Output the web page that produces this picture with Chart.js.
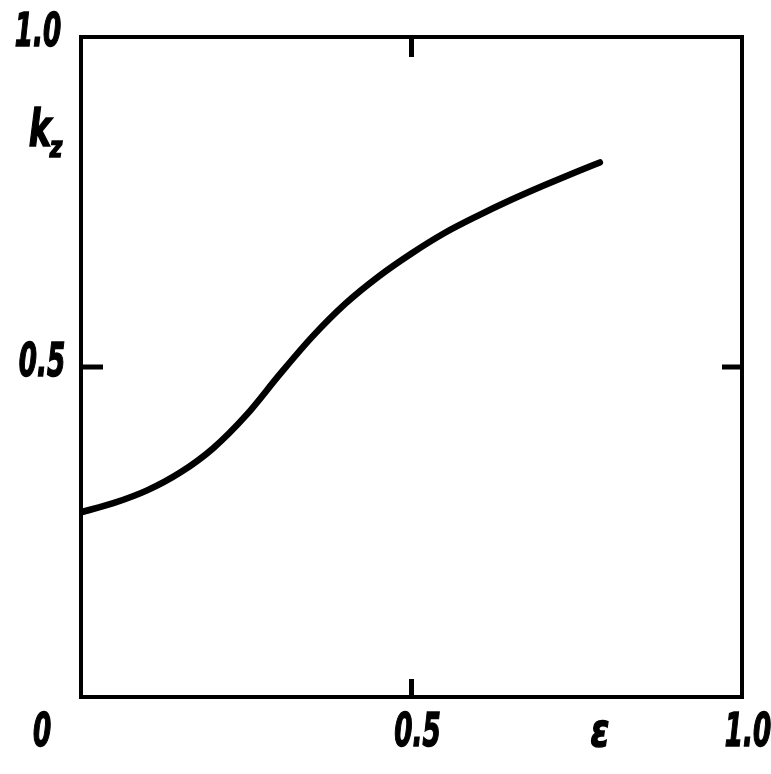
<!DOCTYPE html>
<html>
<head>
<meta charset="utf-8">
<script src="https://cdn.jsdelivr.net/npm/chart.js@4"></script>
<style>
  html, body { margin: 0; padding: 0; background: #fff; }
  #wrap { width: 771px; height: 774px; }
</style>
</head>
<body>
<div id="wrap"><canvas id="kzChart" width="771" height="774"></canvas></div>
<script>
// values
const epsValues = [0, 0.05, 0.1, 0.15, 0.2, 0.25, 0.3, 0.35, 0.4, 0.45, 0.5, 0.55, 0.6, 0.65, 0.7, 0.75, 0.785];
const kzValues = [0.280, 0.294, 0.313, 0.340, 0.377, 0.427, 0.488, 0.546, 0.596, 0.637, 0.672, 0.703, 0.729, 0.753, 0.775, 0.796, 0.810];
const xTickValues = [0, 0.5, 1.0];
const xTickLabels = ['0', '0.5', '1.0'];
const yTickValues = [0.5, 1.0];
const yTickLabels = ['0.5', '1.0'];
const innerTicks = [0.5];

const fontFamily = '"DejaVu Sans Condensed", "Liberation Sans Narrow", sans-serif';

// squeeze text sideways so it looks like the narrow lettering of the original
function squeezedText(ctx, text, cx, cy, sx) {
    ctx.save();
    ctx.translate(cx, cy);
    ctx.scale(sx, 1);
    ctx.fillText(text, 0, 0);
    ctx.lineWidth = 1.5;
    ctx.strokeText(text, 0, 0);
    ctx.restore();
}

// frame, inward ticks and labels, drawn from the scales
const framePlugin = {
    id: 'frame',
    afterDatasetsDraw(chart) {
        const { ctx, chartArea: a, scales: { x, y } } = chart;
        ctx.save();
        ctx.strokeStyle = '#000';
        ctx.lineWidth = 4;
        ctx.strokeRect(a.left, a.top, a.right - a.left, a.bottom - a.top);

        ctx.lineWidth = 5;
        innerTicks.forEach(v => {
            const px = x.getPixelForValue(v);
            const py = y.getPixelForValue(v);
            ctx.beginPath();
            ctx.moveTo(px, a.bottom); ctx.lineTo(px, a.bottom - 18);
            ctx.moveTo(px, a.top); ctx.lineTo(px, a.top + 20);
            ctx.moveTo(a.left, py); ctx.lineTo(a.left + 22, py);
            ctx.moveTo(a.right, py); ctx.lineTo(a.right - 20, py);
            ctx.stroke();
        });

        ctx.fillStyle = '#000';
        ctx.font = 'italic bold 47px ' + fontFamily;
        ctx.textAlign = 'center';
        ctx.textBaseline = 'middle';

        // y labels sit in a column left of the axis
        yTickValues.forEach((v, i) => {
            const py = y.getPixelForValue(v);
            squeezedText(ctx, yTickLabels[i], v === 1 ? 38 : 42, py - 3, 0.62);
        });

        // x labels below the axis; "0" lines up with the y column
        const xLabelY = a.bottom + 37;
        xTickValues.forEach((v, i) => {
            let px = x.getPixelForValue(v);
            if (v === 0) px = 42;
            else px += 6;
            squeezedText(ctx, xTickLabels[i], px, xLabelY, 0.62);
        });

        // axis names
        squeezedText(ctx, 'ε', x.getPixelForValue(0.785), xLabelY, 0.8);
        ctx.font = 'italic bold 52px ' + fontFamily;
        squeezedText(ctx, 'k', 40, 132, 0.72);
        ctx.font = 'italic bold 28px ' + fontFamily;
        squeezedText(ctx, 'z', 56, 150, 0.85);
        ctx.restore();
    }
};

new Chart(document.getElementById('kzChart'), {
    type: 'line',
    data: {
        datasets: [{
            data: epsValues.map((e, i) => ({ x: e, y: kzValues[i] })),
            borderColor: '#000',
            borderWidth: 6.5,
            borderCapStyle: 'round',
            pointRadius: 0,
            fill: false,
            cubicInterpolationMode: 'monotone'
        }]
    },
    options: {
        responsive: false,
        animation: false,
        layout: { padding: { left: 81, right: 29, top: 37, bottom: 77 } },
        plugins: { legend: { display: false }, tooltip: { enabled: false } },
        scales: {
            x: { type: 'linear', min: 0, max: 1, display: false },
            y: { type: 'linear', min: 0, max: 1, display: false }
        }
    },
    plugins: [framePlugin]
});
</script>
</body>
</html>
